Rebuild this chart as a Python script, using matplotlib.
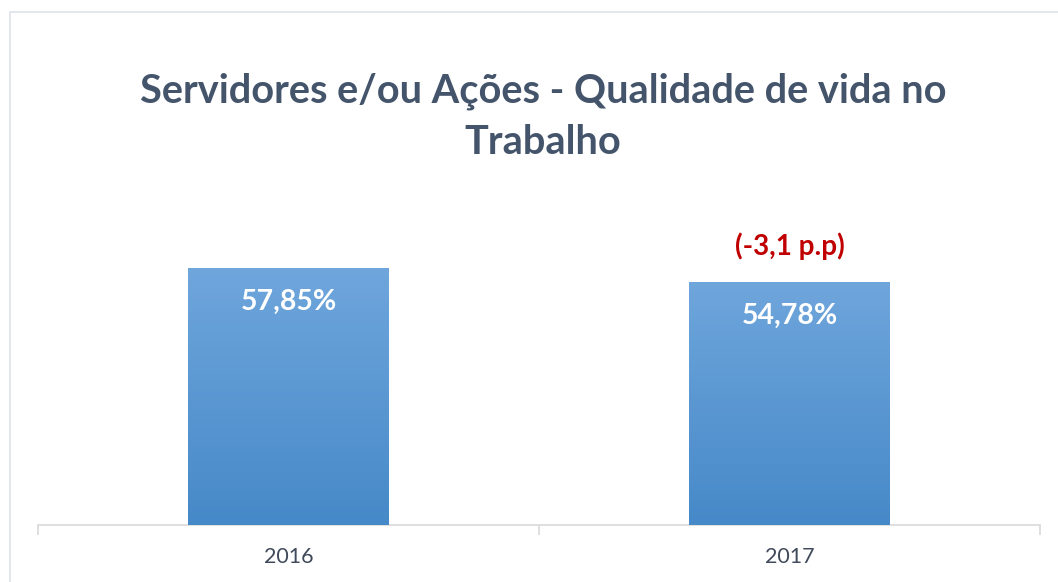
import matplotlib.pyplot as plt
import numpy as np
from matplotlib.patches import Rectangle
from matplotlib.colors import LinearSegmentedColormap

years = ["2016", "2017"]
values = [57.85, 54.78]
value_labels = ["57,85%", "54,78%"]
change_label = "(-3,1 p.p)"

plt.rcParams['font.family'] = ['Lato', 'DejaVu Sans']

fig = plt.figure(figsize=(10.58, 5.82), dpi=100)
fig.patches.append(Rectangle((10 / 1058, -0.1), 1.2, 1 - 12 / 582 + 0.1,
                             transform=fig.transFigure, fill=False,
                             edgecolor="#dde3ea", linewidth=1.2))

ax = fig.add_axes([38 / 1058, 1 - 525 / 582, 1002 / 1058, 325 / 582])
x = np.arange(len(years))
bars = ax.bar(x, values, width=0.4, color="#5b9bd5", zorder=2)

cmap = LinearSegmentedColormap.from_list("g", ["#4689c8", "#6fa6dc"])
grad = np.linspace(0, 1, 256).reshape(-1, 1)
for b in bars:
    im = ax.imshow(grad, cmap=cmap, origin="lower", aspect="auto",
                   extent=[b.get_x(), b.get_x() + b.get_width(), 0, b.get_height()],
                   zorder=3)
    im.set_clip_path(b)

ax.set_xlim(-0.5, 1.5)
ax.set_ylim(0, 73.2)

for i, v in enumerate(values):
    ax.text(x[i], v - 7.6, value_labels[i], ha="center", va="center",
            color="white", fontsize=20.5, fontweight="bold", zorder=4)
ax.text(x[1], values[1] + 8.0, change_label, ha="center", va="center",
        color="#c00000", fontsize=20, fontweight="bold")

for s in ["top", "right", "left"]:
    ax.spines[s].set_visible(False)
ax.spines["bottom"].set_color("#d9d9d9")
ax.spines["bottom"].set_linewidth(1.2)
ax.set_yticks([])
ax.set_xticks([-0.5, 0.5, 1.5], minor=False)
ax.set_xticklabels([])
ax.tick_params(axis="x", which="major", length=7, color="#d9d9d9", width=1.2)
ax.set_xticks(x, minor=True)
ax.set_xticklabels(years, minor=True)
ax.tick_params(axis="x", which="minor", length=0, pad=16, labelsize=15.5,
               labelcolor="#404a5a")

fig.text(0.513, 1 - 117 / 582, "Servidores e/ou Ações - Qualidade de vida no\nTrabalho",
         ha="center", va="center", fontsize=28.6, fontweight="bold",
         color="#44546a", linespacing=1.45)

fig.savefig("out.png", dpi=100)
